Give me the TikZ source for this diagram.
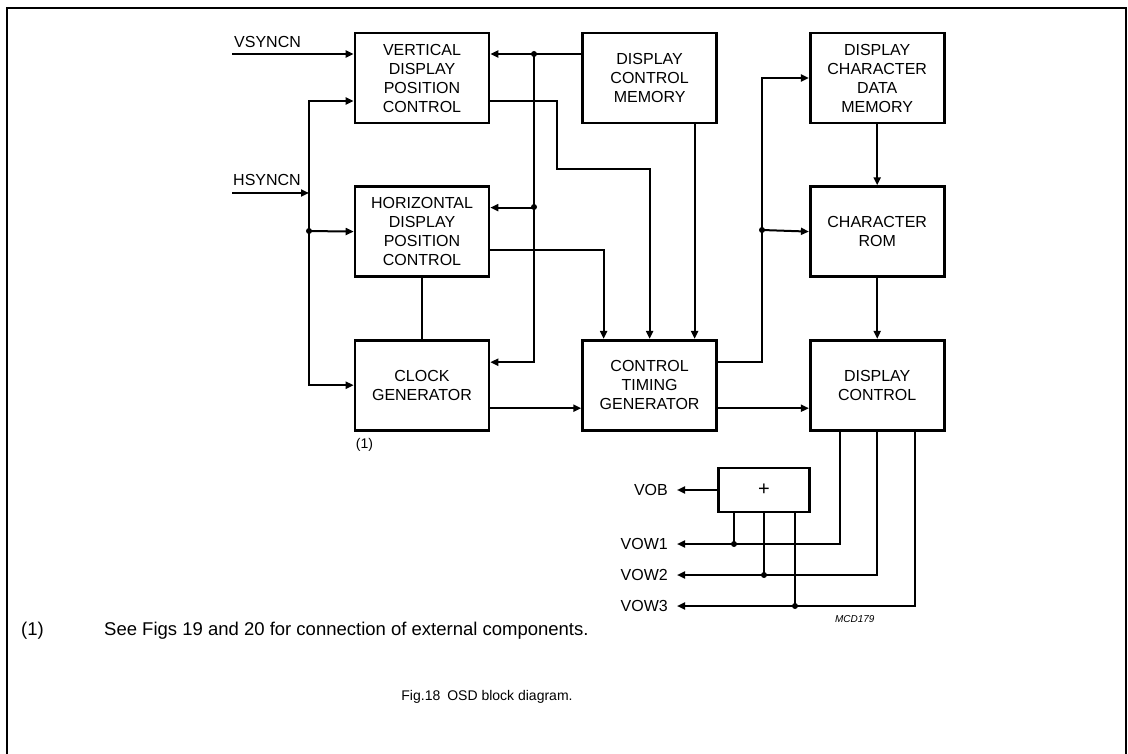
\documentclass[tikz,border=0pt]{standalone}
\usepackage{fontspec}
\setmainfont{Liberation Sans}
\usetikzlibrary{arrows.meta,positioning,calc}
\newcommand{\blkfont}{\fontsize{16}{19}\selectfont}

\begin{document}
\begin{tikzpicture}[x=1pt, y=-1pt,
  blk/.style={draw=black, line width=2.6pt, align=center, font=\blkfont,
              minimum width=134pt, minimum height=90pt, inner sep=2pt},
  arr/.style={-{Triangle[length=8pt,width=7pt]}, line width=2pt},
  wire/.style={line width=2pt},
  pin/.style={font=\blkfont, inner sep=0pt},
  jdot/.style={circle, fill=black, inner sep=0pt, minimum size=6pt},
  node distance=61pt and 91pt]

\useasboundingbox (0,0) rectangle (1128,754);
\draw[line width=2.4pt] (7,754) -- (7,8) -- (1126,8) -- (1126,754);

% blocks
\node[blk] (vdpc) at (422,78) {VERTICAL\\DISPLAY\\POSITION\\CONTROL};
\node[blk, right=of vdpc] (dcm) {DISPLAY\\CONTROL\\MEMORY};
\node[blk, right=of dcm] (dcdm) {DISPLAY\\CHARACTER\\DATA\\MEMORY};
\node[blk, below=of vdpc] (hdpc) {HORIZONTAL\\DISPLAY\\POSITION\\CONTROL};
\node[blk, below=of dcdm] (crom) {CHARACTER\\ROM};
\node[blk, below=of hdpc] (cg) {CLOCK\\GENERATOR};
\node[blk, right=of cg] (ctg) {CONTROL\\TIMING\\GENERATOR};
\node[blk, right=of ctg] (dc) {DISPLAY\\CONTROL};
\node[draw=black, line width=2.4pt, minimum width=91pt, minimum height=44pt,
      font=\fontsize{20}{20}\selectfont] (plus) at (764,490) {+};

% junctions and free ends
\coordinate (vsin) at (232,54);
\coordinate (hsin) at (232,193);
\coordinate (hb) at (309,231);
\coordinate (vb) at (534,54);
\coordinate (vb2) at (534,207);
\coordinate (k1) at (557,169);
\coordinate (cb) at (762,230);
\coordinate (vob) at (677,490);
\coordinate (o1) at (677,544);
\coordinate (o2) at (677,575);
\coordinate (o3) at (677,606);

% sync inputs
\draw[arr] (vsin) -- (vsin -| vdpc.west);
\node[pin, anchor=south west] at (234,48) {VSYNCN};
\draw[arr] (hsin) -- (hsin -| hb);
\node[pin, anchor=south west] at (233,186) {HSYNCN};
\draw[arr] (hb) |- ([yshift=-23pt]vdpc.west);
\draw[arr] (hb) -- (hdpc.west);
\draw[arr] (hb) |- (cg.west);
\node[jdot] at (hb) {};

% display control memory bus
\draw[arr] ([yshift=24pt]dcm.west) -- ([yshift=24pt]vdpc.east);
\draw[arr] (vb) |- ([yshift=24pt]hdpc.east);
\draw[arr] (vb) |- ([yshift=23pt]cg.east);
\node[jdot] at (vb) {};
\node[jdot] at (vb2) {};

% into control timing generator
\draw[arr] ([yshift=-23pt]vdpc.east) -| (k1) -| (ctg.north);
\draw[arr] ([yshift=-18pt]hdpc.east) -| ([xshift=-46pt]ctg.north);
\draw[arr] ([xshift=45pt]dcm.south) -- ([xshift=45pt]ctg.north);
\draw[wire] (hdpc) -- (cg);
\draw[arr] ([yshift=-23pt]cg.east) -- ([yshift=-23pt]ctg.west);
\node[font=\fontsize{14}{16}\selectfont, anchor=north west, inner sep=0pt]
  at ([yshift=-7pt, xshift=2pt]cg.south west) {(1)};

% character path
\draw[arr] ([yshift=23pt]ctg.east) -| (cb) |- (dcdm.west);
\draw[arr] (cb) -- (crom.west);
\node[jdot] at (cb) {};
\draw[arr] (dcdm) -- (crom);
\draw[arr] (crom) -- (dc);
\draw[arr] ([yshift=-23pt]ctg.east) -- ([yshift=-23pt]dc.west);

% video outputs
\draw[arr] ([xshift=-37pt]dc.south) |- (o1);
\draw[arr] (dc.south) |- (o2);
\draw[arr] ([xshift=38pt]dc.south) |- (o3);
\draw[arr] (plus.west) -- (vob);
\foreach \dx/\o in {-30/o1, 0/o2, 31/o3} {
  \draw[wire] ([xshift=\dx pt]plus.south) -- ([xshift=\dx pt]plus.south |- \o);
  \node[jdot] at ([xshift=\dx pt]plus.south |- \o) {};
}
\node[pin, anchor=east] at ([xshift=-9pt]vob) {VOB};
\node[pin, anchor=east] at ([xshift=-9pt]o1) {VOW1};
\node[pin, anchor=east] at ([xshift=-9pt]o2) {VOW2};
\node[pin, anchor=east] at ([xshift=-9pt]o3) {VOW3};
\node[font=\fontsize{10}{12}\selectfont\itshape, anchor=east] at (878,619) {MCD179};

% footnote and caption
\node[pin, anchor=west, font=\fontsize{18.5}{22}\selectfont] at (21,631) {(1)};
\node[pin, anchor=west, font=\fontsize{18.5}{22}\selectfont] at (104,631)
  {See Figs 19 and 20 for connection of external components.};
\node[pin, font=\fontsize{14}{16}\selectfont] at (487,697) {Fig.18\enspace OSD block diagram.};
\end{tikzpicture}
\end{document}
